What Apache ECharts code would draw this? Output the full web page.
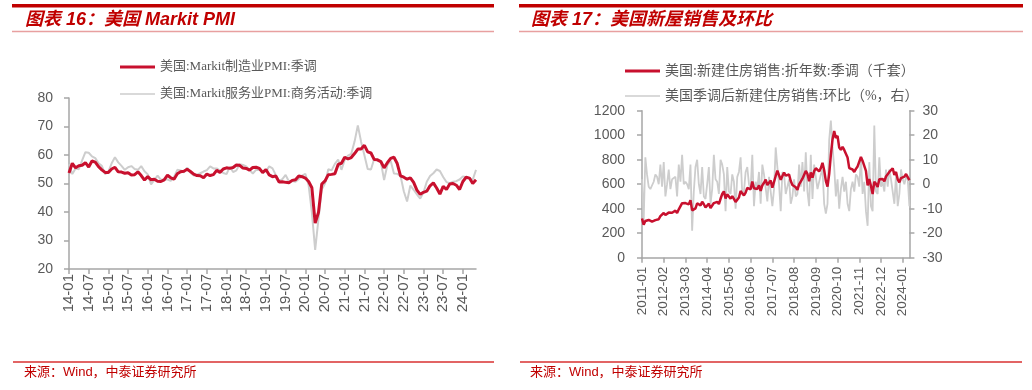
<!DOCTYPE html>
<html><head><meta charset="utf-8">
<script src="https://cdn.jsdelivr.net/npm/echarts@6/dist/echarts.min.js"></script>
<style>html,body{margin:0;padding:0;background:#fff}#c{width:1032px;height:390px}</style>
</head><body><div id="c"></div>
<script>
// ---------- DATA ----------
const pmiStart = [2014, 1];
const pmiMfgName = '美国:Markit制造业PMI:季调';
const pmiSvcName = '美国:Markit服务业PMI:商务活动:季调';
const pmiMfg = [
 53.7,57.1,55.5,56.2,56.4,57.3,55.8,57.9,57.5,55.9,54.8,53.9,
 53.9,55.1,55.7,54.1,54.0,53.6,53.8,53.0,53.1,54.1,52.8,51.2,
 52.4,51.3,51.5,50.8,50.7,51.3,52.9,52.0,51.5,53.4,54.1,54.3,
 55.0,54.2,53.3,52.8,52.7,52.0,53.3,52.8,53.1,54.6,53.9,55.1,
 55.5,55.3,55.6,56.5,56.4,55.4,55.3,54.7,55.6,55.7,55.3,53.8,
 54.9,53.0,52.4,52.6,50.5,50.6,50.4,50.3,51.1,51.3,52.6,52.4,
 51.9,50.7,48.5,36.1,39.8,49.8,50.9,53.1,53.2,53.4,56.7,57.1,
 59.2,58.6,59.1,60.5,62.1,62.1,63.4,61.1,60.7,58.4,58.3,57.7,
 55.5,57.3,58.8,59.2,57.0,52.7,52.2,51.5,52.0,50.4,47.7,46.2,
 46.9,47.3,49.2,50.2,48.4,46.3,49.0,47.9,49.8,50.0,49.4,47.9,
 50.7,52.2,51.9,50.0,51.3
];
const pmiSvc = [
 56.7,53.3,55.3,55.0,58.1,61.0,60.8,59.5,58.9,57.1,56.2,53.3,
 54.2,57.1,59.2,57.4,56.2,54.8,55.7,56.1,55.1,54.8,56.1,54.3,
 53.2,49.7,51.3,52.8,51.3,51.4,51.4,50.9,52.3,54.8,54.6,53.9,
 55.6,53.8,52.8,53.1,53.6,54.2,54.7,56.0,55.3,55.3,54.5,53.7,
 53.3,55.9,54.0,54.6,56.8,56.5,56.0,54.8,53.5,54.8,54.7,54.4,
 54.2,56.0,55.3,53.0,50.9,51.5,53.0,50.7,50.9,50.6,51.6,52.8,
 53.4,49.4,39.8,26.7,37.5,47.9,50.0,55.0,54.6,56.9,58.4,54.8,
 58.3,59.8,60.4,64.7,70.4,64.6,59.9,55.1,54.9,58.7,58.0,57.6,
 51.2,56.5,58.0,53.5,53.4,52.7,47.3,43.7,49.3,47.8,46.2,44.7,
 46.8,50.6,52.6,53.6,54.9,54.4,52.3,50.5,50.1,50.6,50.8,51.4,
 52.5,52.3,51.7,51.3,54.8
];
const pmiTicks = [20, 80, 10];

const hsStart = [2011, 1];
const hsSalesName = '美国:新建住房销售:折年数:季调（千套）';
const hsMomName = '美国季调后新建住房销售:环比（%，右）';
const hsSales = [
 320,270,300,312,308,301,294,296,307,315,314,339,
 336,365,348,348,368,360,367,374,384,365,395,398,
 445,443,446,446,435,470,386,375,403,444,445,427,
 457,436,410,411,441,406,399,446,453,456,438,481,
 520,542,484,517,502,482,502,507,455,470,491,544,
 525,508,531,570,572,558,622,567,575,561,591,545,
 590,612,638,593,612,630,571,559,667,711,712,636,
 667,695,670,663,679,626,593,603,575,553,599,591,
 645,629,708,684,624,696,653,706,730,718,704,731,
 774,714,627,580,683,840,965,1035,977,995,900,880,
 906,880,885,817,731,716,720,700,725,745,740,822,
 790,795,709,591,642,585,520,620,603,577,640,636,
 643,623,663,660,700,715,730,675,700,640,615,650,
 664,662,683,698,634
];
const hsMom = [
 2,-15,11,4,-1,-2,-2,1,4,3,0,8,
 -1,9,-5,0,6,-2,2,2,3,-5,8,1,
 12,0,1,0,-2,8,-19,-3,7,10,0,-4,
 7,-5,-6,0,7,-8,-2,12,2,1,-4,10,
 8,4,-11,7,-3,-4,4,1,-10,3,5,11,
 -4,-3,5,7,0,-2,12,-9,1,-2,5,-8,
 8,4,4,-7,3,3,-9,-2,15,7,0,-11,
 5,4,-4,-1,2,-8,-5,2,-5,-4,8,-1,
 9,-3,13,-3,-9,12,-6,8,3,-2,-2,4,
 6,-8,-12,-8,18,26,15,7,-5,2,-10,-2,
 3,-3,1,-8,-11,-2,1,-3,4,3,-1,11,
 -4,1,-11,-17,9,-9,-11,24,-3,-4,11,-1,
 1,-3,6,-1,6,2,2,-8,4,-9,-4,6,
 2,0,3,2,-9
];
const hsLeftTicks = [0, 1200, 200];
const hsRightTicks = [-30, 30, 10];

// month labels
function months(start, n, fmt) {
  const out = [];
  let y = start[0], m = start[1];
  for (let i = 0; i < n; i++) {
    const mm = (m < 10 ? '0' : '') + m;
    out.push(fmt === 'short' ? String(y).slice(2) + '-' + mm : y + '-' + mm);
    m++; if (m > 12) { m = 1; y++; }
  }
  return out;
}
const pmiMonths = months(pmiStart, pmiMfg.length, 'short');
const hsMonths = months(hsStart, hsSales.length, 'long');

// ---------- STYLE ----------
const RED = '#c8102e', GREY = '#cdcdcd', AX = '#a6a6a6', TXT = '#595959', TRED = '#c00000';
const SANS = 'Liberation Sans, Arial, Noto Sans CJK SC';
const SERIF = 'Liberation Serif, Noto Sans CJK SC';

const chart = echarts.init(document.getElementById('c'));
const axLine = { show: true, lineStyle: { color: AX, width: 1.5 } };
const plain = v => String(v);

function lg(name, left, top, fs, h) {
  return { data: [{ name: name, icon: 'rect' }], orient: 'horizontal', left: left, top: top,
    itemWidth: 35, itemHeight: h, padding: 0,
    textStyle: { fontSize: fs, color: TXT, fontFamily: SERIF } };
}

chart.setOption({
  backgroundColor: '#fff',
  animation: false,
  grid: [
    { left: 69, top: 98, width: 407, height: 171 },
    { left: 642, top: 110.7, width: 267.4, height: 147 }
  ],
  legend: [
    lg(pmiMfgName, 120, 60.5, 13, 3),
    lg(pmiSvcName, 120, 87.5, 13, 1.6),
    lg(hsSalesName, 625, 64, 14, 3),
    lg(hsMomName, 625, 89, 14, 1.6)
  ],
  xAxis: [
    { gridIndex: 0, type: 'category', boundaryGap: false, data: pmiMonths,
      axisLine: axLine,
      axisTick: { show: true, interval: 5, length: 5, lineStyle: { color: AX, width: 1.5 } },
      axisLabel: { interval: 5, rotate: 90, fontSize: 15, color: TXT, margin: 5, fontFamily: SANS } },
    { gridIndex: 1, type: 'category', boundaryGap: false, data: hsMonths,
      axisLine: axLine,
      axisTick: { show: true, interval: 12, length: 5, lineStyle: { color: AX, width: 1.5 } },
      axisLabel: { interval: 12, rotate: 90, fontSize: 13.5, color: TXT, margin: 9, fontFamily: SANS } }
  ],
  yAxis: [
    { gridIndex: 0, type: 'value', min: pmiTicks[0], max: pmiTicks[1], interval: pmiTicks[2],
      axisLine: axLine, axisTick: { show: true, length: 5, lineStyle: { color: AX, width: 1.5 } },
      splitLine: { show: false },
      axisLabel: { fontSize: 14, color: TXT, margin: 16, fontFamily: SANS, formatter: plain } },
    { gridIndex: 1, type: 'value', min: hsLeftTicks[0], max: hsLeftTicks[1], interval: hsLeftTicks[2],
      axisLine: axLine, axisTick: { show: true, length: 5, lineStyle: { color: AX, width: 1.5 } },
      splitLine: { show: false },
      axisLabel: { fontSize: 14, color: TXT, margin: 17, fontFamily: SANS, formatter: plain } },
    { gridIndex: 1, type: 'value', position: 'right', min: hsRightTicks[0], max: hsRightTicks[1], interval: hsRightTicks[2],
      axisLine: axLine, axisTick: { show: true, length: 5, lineStyle: { color: AX, width: 1.5 } },
      splitLine: { show: false },
      axisLabel: { fontSize: 14, color: TXT, margin: 13, fontFamily: SANS, formatter: plain } }
  ],
  series: [
    { name: pmiMfgName, type: 'line', xAxisIndex: 0, yAxisIndex: 0, data: pmiMfg, symbol: 'none', z: 3,
      lineStyle: { color: RED, width: 3 }, itemStyle: { color: RED } },
    { name: pmiSvcName, type: 'line', xAxisIndex: 0, yAxisIndex: 0, data: pmiSvc, symbol: 'none', z: 2,
      lineStyle: { color: GREY, width: 2 }, itemStyle: { color: GREY } },
    { name: hsSalesName, type: 'line', xAxisIndex: 1, yAxisIndex: 1, data: hsSales, symbol: 'none', z: 3,
      lineStyle: { color: RED, width: 2.5 }, itemStyle: { color: RED } },
    { name: hsMomName, type: 'line', xAxisIndex: 1, yAxisIndex: 2, data: hsMom, symbol: 'none', z: 2,
      lineStyle: { color: GREY, width: 1.8 }, itemStyle: { color: GREY } }
  ],
  graphic: [
    { type: 'rect', shape: { x: 12, y: 4, width: 482, height: 3.5 }, style: { fill: TRED } },
    { type: 'rect', shape: { x: 519, y: 4, width: 504, height: 3.5 }, style: { fill: TRED } },
    { type: 'line', shape: { x1: 12, y1: 31.5, x2: 494, y2: 31.5 }, style: { stroke: '#e8a0a0', lineWidth: 1.5 } },
    { type: 'line', shape: { x1: 519, y1: 31.5, x2: 1023, y2: 31.5 }, style: { stroke: '#e8a0a0', lineWidth: 1.5 } },
    { type: 'text', x: 25, y: 20, style: { text: '图表 16：美国 Markit PMI', fill: TRED,
      font: 'italic bold 18px ' + SANS, textVerticalAlign: 'middle' } },
    { type: 'text', x: 531, y: 20, style: { text: '图表 17：美国新屋销售及环比', fill: TRED,
      font: 'italic bold 18px ' + SANS, textVerticalAlign: 'middle' } },
    { type: 'line', shape: { x1: 13, y1: 362, x2: 494, y2: 362 }, style: { stroke: '#d83030', lineWidth: 1.3 } },
    { type: 'line', shape: { x1: 520, y1: 362, x2: 1022, y2: 362 }, style: { stroke: '#d83030', lineWidth: 1.3 } },
    { type: 'text', x: 24, y: 372, style: { text: '来源：Wind，中泰证券研究所', fill: TRED,
      font: '13px ' + SANS, textVerticalAlign: 'middle' } },
    { type: 'text', x: 530, y: 372, style: { text: '来源：Wind，中泰证券研究所', fill: TRED,
      font: '13px ' + SANS, textVerticalAlign: 'middle' } }
  ]
});
</script>
</body></html>
